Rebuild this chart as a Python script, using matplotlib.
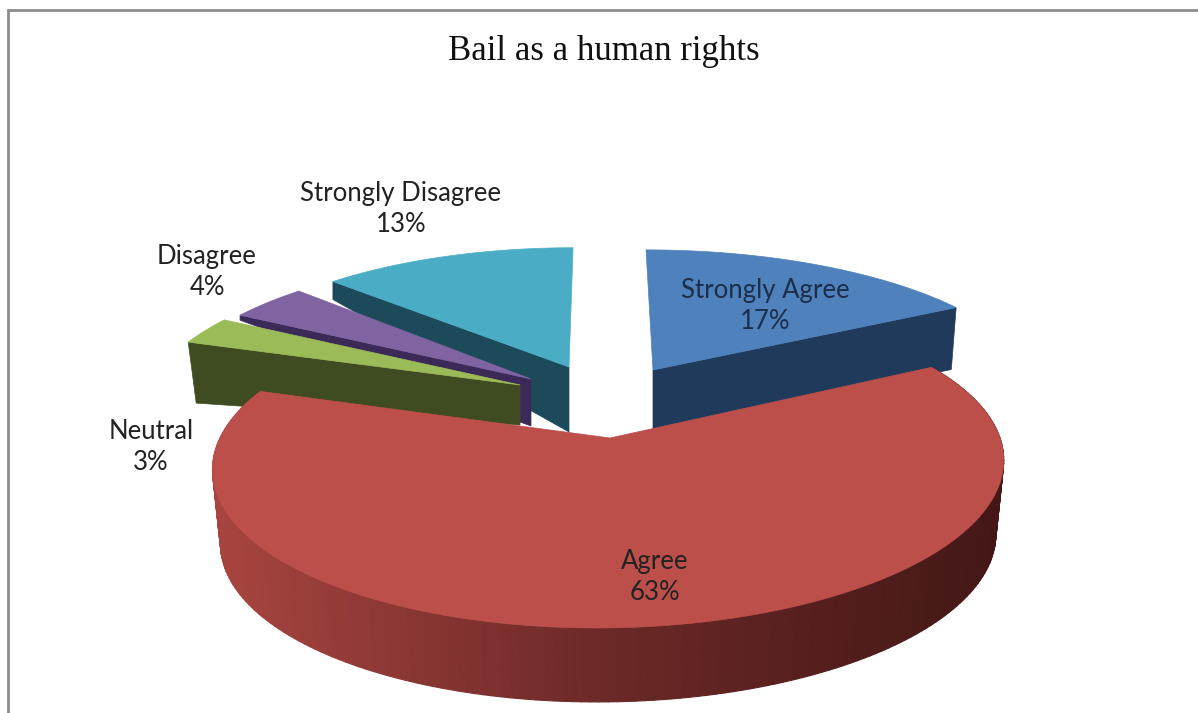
import numpy as np
import matplotlib
matplotlib.use('Agg')
import matplotlib.pyplot as plt
from matplotlib.collections import PolyCollection
from matplotlib.colors import LinearSegmentedColormap
from matplotlib.patches import Polygon

##########################################################
TITLE = 'Bail as a human rights'
categories = ['Strongly Agree', 'Agree', 'Neutral', 'Disagree', 'Strongly Disagree']
values = [17, 63, 3, 4, 13]  # percent
top_colors = ['#4F81BD', '#BD4F4B', '#9BBB59', '#8064A2', '#4BACC6']
side_colors = ['#1F3A5A', '#7A2E2B', '#3F4B20', '#3B2A57', '#1D4A5A']
##########################################################

# where each slice sits: apex, radii, lean, depth at apex and rim, rim shrink of lower face
layout = {
    'Strongly Agree': (653, 370, 378, 140, -0.058, 60, 62, 0.984),
    'Agree': (610, 438, 390, 158.5, 0.07, 74, 74, 0.98),
    'Neutral': (520, 385, 370, 146, 0.07, 40, 61, 0.976),
    'Disagree': (531, 379, 364, 143, 0.07, 47, 5, 1.0),
    'Strongly Disagree': (569, 367, 365, 139, 0.034, 65, 18, 1.0),
}
label_pos = {
    'Strongly Agree': (765, 306),
    'Agree': (655, 577),
    'Neutral': (151, 447),
    'Disagree': (207, 272),
    'Strongly Disagree': (401, 209),
}
PERSPECTIVE = 0.1656


def rim_offset(theta, a, b, lean):
    w = 1 + PERSPECTIVE * np.sin(theta)
    dy = b * np.sin(theta) / w
    dx = a * np.cos(theta) / w + lean * dy
    return dx, dy


fig = plt.figure(figsize=(11.98, 7.13), dpi=100)
ax = fig.add_axes([0, 0, 1, 1])
ax.set_xlim(0, 1198)
ax.set_ylim(713, 0)
ax.axis('off')

# frame of the chart area, only left and top are in the crop
ax.plot([8, 8, 1198], [713, 10, 10], color='#8C8C8C', lw=2, solid_joinstyle='miter')

# slice angles run clockwise from 12 o'clock
ends = 90 - 3.6 * np.cumsum(values)
starts = np.append(90, ends[:-1])
idx_by_name = {c: i for i, c in enumerate(categories)}

red_map = LinearSegmentedColormap.from_list('side', ['#A8443F', '#6B2927', '#431716'])

for name in ['Strongly Disagree', 'Disagree', 'Neutral', 'Strongly Agree', 'Agree']:
    i = idx_by_name[name]
    x0, y0, a, b, lean, d_apex, d_rim, shrink = layout[name]
    theta = np.radians(np.linspace(starts[i], ends[i], 200))
    dx, dy = rim_offset(theta, a, b, lean)
    rim_x, rim_y = x0 + dx, y0 - dy

    if name == 'Agree':
        # outer wall with a left to right gradient
        low_x, low_y = x0 + dx * shrink, y0 - dy + d_rim
        quads = [[(rim_x[j], rim_y[j]), (rim_x[j + 1], rim_y[j + 1]),
                  (low_x[j + 1], low_y[j + 1]), (low_x[j], low_y[j])]
                 for j in range(len(theta) - 1)]
        shade = red_map((rim_x[:-1] - 214) / 792)
        ax.add_collection(PolyCollection(quads, facecolors=shade, edgecolors=shade, linewidths=0.8))
    else:
        # the cut face we can see is on the lower of the two radial edges
        k = 0 if dy[0] < dy[-1] else -1
        face = [(x0, y0), (rim_x[k], rim_y[k]),
                (x0 + dx[k] * shrink, rim_y[k] + d_rim), (x0, y0 + d_apex)]
        ax.add_patch(Polygon(face, closed=True, facecolor=side_colors[i], edgecolor=side_colors[i], lw=0.5))

    top = np.column_stack([np.append(x0, rim_x), np.append(y0, rim_y)])
    ax.add_patch(Polygon(top, closed=True, facecolor=top_colors[i], edgecolor=top_colors[i], lw=0.5))

ax.text(604, 51, TITLE, family='Liberation Serif', fontsize=25, color='#111111', ha='center', va='center')

for c, v in zip(categories, values):
    px, py = label_pos[c]
    txt_color = '#1C2F4A' if c == 'Strongly Agree' else '#222222'
    ax.text(px, py, c + '\n' + str(v) + '%', family='Lato', fontsize=18.5, color=txt_color,
            ha='center', va='center', linespacing=1.3)

fig.savefig('out.png', dpi=100)
print('out.png saved')
